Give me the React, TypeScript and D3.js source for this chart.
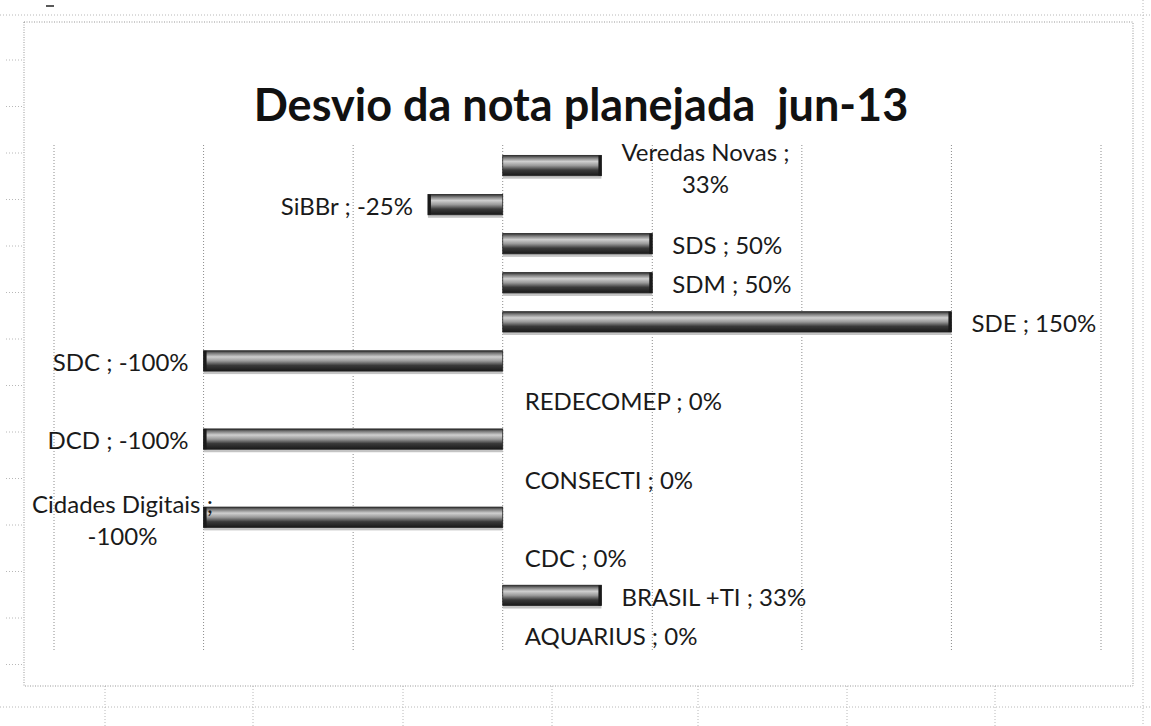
import React, { useEffect, useRef } from "react";
import * as d3 from "d3";

const categories = [
  "Veredas Novas",
  "SiBBr",
  "SDS",
  "SDM",
  "SDE",
  "SDC",
  "REDECOMEP",
  "DCD",
  "CONSECTI",
  "Cidades Digitais",
  "CDC",
  "BRASIL +TI",
  "AQUARIUS",
];
const values = [0.33, -0.25, 0.5, 0.5, 1.5, -1, 0, -1, 0, -1, 0, 0.33, 0];
const wrappedLabels = ["Veredas Novas", "Cidades Digitais"];
const gridTicks = [-1.5, -1, -0.5, 0, 0.5, 1, 1.5, 2];
const title = "Desvio da nota planejada  jun-13";

const W = 1151;
const H = 726;
const FONT = "Lato, 'Open Sans', sans-serif";

export default function App() {
  const ref = useRef<SVGSVGElement | null>(null);

  useEffect(() => {
    const svg = d3.select(ref.current);
    svg.selectAll("*").remove();

    const chart = { left: 24, top: 22, right: 1133, bottom: 686 };
    const x = d3.scaleLinear().domain([-1.5, 2]).range([54, 1101]);
    const y = d3
      .scaleBand<string>()
      .domain(categories)
      .range([146, 654])
      .paddingInner(0.48)
      .paddingOuter(0.24);

    const defs = svg.append("defs");
    const grad = defs
      .append("linearGradient")
      .attr("id", "barGrad")
      .attr("x1", 0)
      .attr("y1", 0)
      .attr("x2", 0)
      .attr("y2", 1);
    [
      [0, "#2e2e2e"],
      [0.12, "#7a7a7a"],
      [0.3, "#cfcfcf"],
      [0.5, "#9a9a9a"],
      [0.72, "#3a3a3a"],
      [1, "#1a1a1a"],
    ].forEach(([o, c]) =>
      grad.append("stop").attr("offset", o as number).attr("stop-color", c as string)
    );

    svg.append("rect").attr("width", W).attr("height", H).attr("fill", "#fff");

    // spreadsheet background lines (outside chart)
    const sheet = svg
      .append("g")
      .attr("stroke", "#b8b8b8")
      .attr("stroke-width", 1)
      .attr("stroke-dasharray", "1,2")
      .attr("fill", "none");
    sheet.append("line").attr("x1", 0).attr("x2", W).attr("y1", 15).attr("y2", 15);
    sheet.append("line").attr("x1", 0).attr("x2", W).attr("y1", 707).attr("y2", 707);
    sheet.append("line").attr("x1", 1143).attr("x2", 1143).attr("y1", 0).attr("y2", H);
    [105, 253, 403, 552, 698, 847, 995].forEach((vx) =>
      sheet.append("line").attr("x1", vx).attr("x2", vx).attr("y1", chart.bottom).attr("y2", H)
    );
    d3.range(60, 686, 46.5).forEach((vy) =>
      sheet.append("line").attr("x1", 6).attr("x2", chart.left).attr("y1", vy).attr("y2", vy)
    );
    svg
      .append("line")
      .attr("x1", 46)
      .attr("x2", 54)
      .attr("y1", 6)
      .attr("y2", 6)
      .attr("stroke", "#222")
      .attr("stroke-width", 1.5);

    // chart border
    svg
      .append("rect")
      .attr("x", chart.left)
      .attr("y", chart.top)
      .attr("width", chart.right - chart.left)
      .attr("height", chart.bottom - chart.top)
      .attr("fill", "#fff")
      .attr("stroke", "#999")
      .attr("stroke-width", 1)
      .attr("stroke-dasharray", "1,1.5");

    // title
    svg
      .append("text")
      .attr("x", 581)
      .attr("y", 121)
      .attr("text-anchor", "middle")
      .attr("font-family", FONT)
      .attr("font-weight", "bold")
      .attr("font-size", 45)
      .attr("fill", "#111")
      .style("white-space", "pre")
      .text(title);

    // gridlines
    const [y0, y1] = y.range();
    svg
      .append("g")
      .selectAll("line")
      .data(gridTicks)
      .join("line")
      .attr("x1", (d) => x(d))
      .attr("x2", (d) => x(d))
      .attr("y1", y0 - 1)
      .attr("y2", y1 - 4)
      .attr("stroke", "#8c8c8c")
      .attr("stroke-width", 1)
      .attr("stroke-dasharray", "1,2");

    // bars
    const bars = svg.append("g");
    categories.forEach((c, i) => {
      const v = values[i];
      if (v === 0) return;
      const bx = Math.min(x(0), x(v));
      const bw = Math.abs(x(v) - x(0));
      const by = y(c)!;
      const bh = y.bandwidth();
      bars
        .append("rect")
        .attr("x", bx)
        .attr("y", by + bh)
        .attr("width", bw)
        .attr("height", 3)
        .attr("fill", "#c4c4c4");
      bars
        .append("rect")
        .attr("x", bx)
        .attr("y", by)
        .attr("width", bw)
        .attr("height", bh)
        .attr("fill", "url(#barGrad)")
        .attr("stroke", "#222")
        .attr("stroke-width", 0.8);
      const capX = v > 0 ? bx + bw - 3 : bx;
      bars
        .append("rect")
        .attr("x", capX)
        .attr("y", by)
        .attr("width", 3)
        .attr("height", bh)
        .attr("fill", "#1a1a1a");
    });

    // labels
    const labels = svg
      .append("g")
      .attr("font-family", FONT)
      .attr("font-size", 24)
      .attr("fill", "#1a1a1a");
    categories.forEach((c, i) => {
      const v = values[i];
      const pct = Math.round(v * 100) + "%";
      const cy = y(c)! + y.bandwidth() / 2;
      const wrapped = wrappedLabels.includes(c);
      const lines = wrapped ? [c + " ;", pct] : [c + " ; " + pct];
      const t = labels.append("text").attr("text-anchor", "middle");
      const lh = 32;
      lines.forEach((ln, k) => {
        t.append("tspan")
          .attr("x", 0)
          .attr("y", cy + (k - (lines.length - 1) / 2) * lh + (wrapped ? 3 : 2))
          .attr("dy", "0.35em")
          .style("white-space", "pre")
          .text(ln);
      });
      const w = (t.node() as SVGTextElement).getBBox().width;
      let cx: number;
      if (v > 0) cx = x(v) + 20 + w / 2;
      else if (v < 0) cx = x(v) - 15 - w / 2;
      else cx = x(0) + 22 + w / 2;
      cx = Math.max(chart.left + 8 + w / 2, Math.min(chart.right - 8 - w / 2, cx));
      t.selectAll("tspan").attr("x", cx);
    });
  }, []);

  return (
    <svg
      ref={ref}
      width={W}
      height={H}
      style={{ position: "absolute", left: 0, top: 0, display: "block" }}
    />
  );
}
